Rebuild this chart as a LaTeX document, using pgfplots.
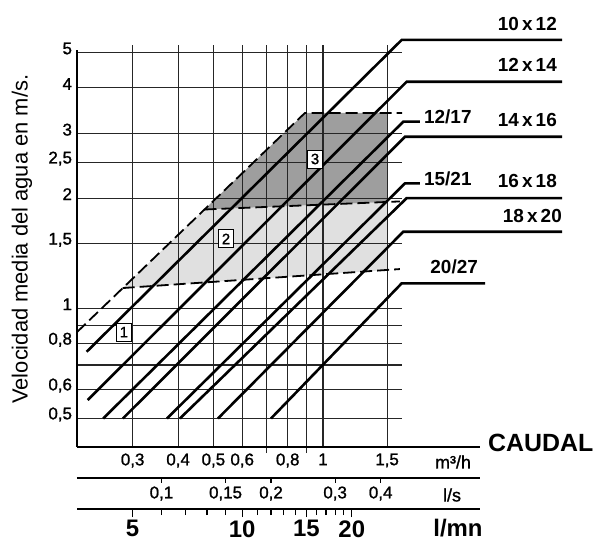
\documentclass[border=0pt]{standalone}
\usepackage{fontspec}
\setmainfont{Liberation Sans}
\newfontfamily\medio[FakeBold=1.2]{Liberation Sans}
\usepackage{pgfplots}
\pgfplotsset{compat=1.18}

\newcommand{\fs}[1]{\fontsize{#1}{#1}\selectfont}

\tikzset{
  rejilla/.style={black!85, line width=1.1bp},
  tubo/.style={black, line width=2.6bp},
  discont/.style={black, line width=1.8bp, dash pattern=on 12bp off 5bp},
  caja/.style={draw=black, line width=1bp, fill=white, inner sep=0pt,
    minimum width=15bp, minimum height=18bp, font=\medio\fs{15}},
  etiq/.style={font=\bfseries\fs{19}, inner sep=0pt},
}

\begin{document}
\begin{tikzpicture}
\useasboundingbox (0,0) rectangle (596bp,542bp);

% caudal (m3/h) contra velocidad (m/s), los dos en escala log
\begin{axis}[
  at={(77bp,95bp)}, anchor=south west,
  scale only axis, width=519bp, height=447bp,
  xmode=log, ymode=log,
  xmin=0.2110, xmax=5.623, ymin=0.4179, ymax=6.956,
  axis line style={draw=none},
  major tick length=0pt, minor tick length=0pt,
  xtick={0.3,0.4,0.5,0.6,0.8,1,1.5},
  xticklabels={{0,3},{0,4},{0,5},{0,6},{0,8},{1},{1,5}},
  ytick={0.5,0.6,0.8,1,1.5,2,2.5,3,4,5},
  yticklabels={{0,5},{0,6},{0,8},{1},{1,5},{2},{2,5},{3},{4},{5}},
  ticklabel style={font=\medio\fs{17}},
  xticklabel style={yshift=-3bp},
  yticklabel style={yshift=4bp, xshift=-1.5bp},
  ylabel={Velocidad media del agua en m/s.},
  ylabel style={at={(axis description cs:-0.106,0.465)}, anchor=center, font=\fs{22}},
  clip=false,
]
% zonas 2 y 3
\addplot[draw=none, fill=black!12] coordinates {(0.2818,1.136) (0.4726,1.862) (1.5,1.952) (1.5,1.273)} -- cycle;
\addplot[draw=none, fill=black!38] coordinates {(0.4726,1.862) (0.892,3.418) (1.5,3.418) (1.5,1.952)} -- cycle;

% rejilla
\pgfplotsinvokeforeach{0.5,0.6,0.7,0.8,0.9,1,1.5,2,2.5,3,4,5}{
  \draw[rejilla] (axis cs:0.211,#1) -- (axis cs:1.649,#1);}
\pgfplotsinvokeforeach{0.3,0.4,0.5,0.6,0.8,1,1.5}{
  \draw[rejilla] (axis cs:#1,0.4179) -- (axis cs:#1,5.24);}
\pgfplotsinvokeforeach{0.7,0.9}{
  \draw[rejilla] (axis cs:#1,0.4024) -- (axis cs:#1,5.24);}
\draw[line width=2bp] (axis cs:0.211,0.4179) -- (axis cs:0.211,5.08);
\draw[line width=2.4bp] (axis cs:0.211,0.4179) -- (axis cs:2.70,0.4179);

% limites de zonas
\addplot[discont] coordinates {(0.211,0.861) (0.892,3.418) (1.649,3.418)};
\addplot[discont] coordinates {(0.4726,1.862) (1.627,1.959)};
\addplot[discont] coordinates {(0.2818,1.136) (1.627,1.280)};

% tubos
\addplot[tubo] coordinates {(0.2243,0.761) (1.645,5.41) (4.535,5.41)};
\addplot[tubo] coordinates {(0.2258,0.5615) (1.698,4.16) (4.535,4.16)};
\addplot[tubo] coordinates {(0.249,0.5) (1.662,3.235) (1.847,3.235)};
\addplot[tubo] coordinates {(0.2821,0.5) (1.68,2.943) (4.535,2.943)};
\addplot[tubo] coordinates {(0.3727,0.5) (1.68,2.195) (1.847,2.195)};
\addplot[tubo] coordinates {(0.4046,0.5) (1.698,2.0) (4.535,2.0)};
\addplot[tubo] coordinates {(0.5146,0.5) (1.662,1.619) (4.535,1.619)};
\addplot[tubo] coordinates {(0.7197,0.5) (1.645,1.17) (2.787,1.17)};

\node[etiq, anchor=base east, xshift=-5bp, yshift=9bp] at (axis cs:4.535,5.41) {10\,x\,12};
\node[etiq, anchor=base east, xshift=-5bp, yshift=10bp] at (axis cs:4.535,4.16) {12\,x\,14};
\node[etiq, anchor=base east, xshift=-5bp, yshift=10bp] at (axis cs:4.535,2.943) {14\,x\,16};
\node[etiq, anchor=base east, xshift=-5bp, yshift=11bp] at (axis cs:4.535,2.0) {16\,x\,18};
\node[etiq, anchor=base east, xshift=0bp, yshift=9bp] at (axis cs:4.535,1.619) {18\,x\,20};
\node[etiq, anchor=base west, xshift=4bp, yshift=-2bp] at (axis cs:1.847,3.235) {12/17};
\node[etiq, anchor=base west, xshift=4bp, yshift=-2bp] at (axis cs:1.847,2.195) {15/21};
\node[etiq, anchor=base east, xshift=-7bp, yshift=10bp] at (axis cs:2.787,1.17) {20/27};

\node[caja] at (axis cs:0.951,2.558) {3};
\node[caja] at (axis cs:0.5415,1.547) {2};
\node[caja] at (axis cs:0.284,0.861) {1};

\node[font=\medio\fs{18}] at (axis cs:2.276,0.3802) {m³/h};
\node[font=\medio\fs{18}] at (axis cs:2.262,0.309) {l/s};
\node[font=\bfseries\fs{24}, anchor=base, inner sep=0pt] at (axis cs:2.349,0.2385) {l/mn};
\node[font=\bfseries\fs{25}, anchor=west, inner sep=0pt] at (axis cs:2.84,0.4285) {CAUDAL};
\end{axis}

% escala en l/s
\begin{axis}[
  at={(77bp,64bp)}, anchor=south west,
  scale only axis, width=403bp, height=10bp,
  xmode=log, xmin=0.058611, xmax=0.75, ymin=0, ymax=1,
  hide y axis, axis x line*=bottom,
  x axis line style={line width=1.6bp, -},
  xtick={0.1,0.15,0.2,0.3,0.4},
  xticklabels={{0,1},{0,15},{0,2},{0,3},{0,4}},
  minor xtick={},
  tick align=outside, major tick length=5bp,
  xtick style={line width=1.2bp, black},
  ticklabel style={font=\medio\fs{17}},
]
\end{axis}

% escala en l/mn
\begin{axis}[
  at={(77bp,33bp)}, anchor=south west,
  scale only axis, width=403bp, height=10bp,
  xmode=log, xmin=3.5167, xmax=45.0, ymin=0, ymax=1,
  hide y axis, axis x line*=bottom,
  x axis line style={line width=1.6bp, -},
  xtick={5,10,15,20}, xticklabels={5,10,15,20},
  minor xtick={6,7,8,9,11,12,13,14,16,17,18,19},
  tick align=outside, major tick length=8bp, minor tick length=6bp,
  xtick style={line width=1.2bp, black},
  ticklabel style={font=\bfseries\fs{24}},
]
\end{axis}
\end{tikzpicture}
\end{document}
